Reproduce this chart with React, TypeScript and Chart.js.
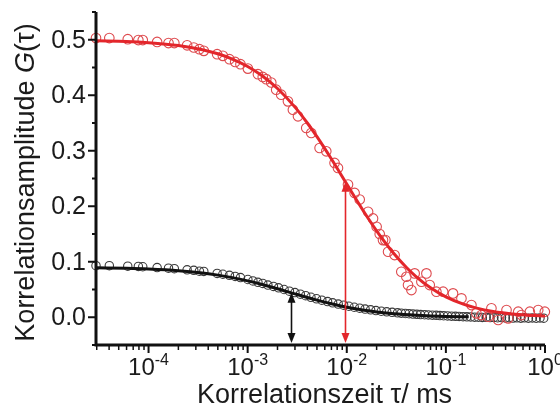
import { useEffect, useRef } from "react";
import { Chart, registerables } from "chart.js";

Chart.register(...registerables);

// Red sample: measured points (tau in ms, amplitude G)
const redTau = [
  2.95e-5, 4.02e-5, 6.17e-5, 7.89e-5, 8.74e-5, 1.22e-4, 1.59e-4, 1.82e-4, 2.45e-4, 2.86e-4,
  3.26e-4, 3.61e-4, 4.92e-4, 5.62e-4, 6.55e-4, 7.48e-4, 8.46e-4, 1.005e-3, 1.27e-3, 1.42e-3,
  1.54e-3, 1.73e-3, 1.94e-3, 2.18e-3, 2.55e-3, 2.86e-3, 3.22e-3, 3.9e-3, 4.38e-3, 5.32e-3,
  6.21e-3, 7.53e-3, 8.15e-3, 1.029e-2, 1.2e-2, 1.35e-2, 1.64e-2, 1.84e-2, 2.0e-2, 2.15e-2,
  2.32e-2, 2.45e-2, 2.61e-2, 3.04e-2, 3.55e-2, 3.99e-2, 4.15e-2, 4.49e-2, 4.84e-2, 5.66e-2,
  6.36e-2, 6.87e-2, 8.02e-2, 9.38e-2, 0.118, 0.1435, 0.181, 0.203, 0.228, 0.267,
  0.288, 0.337, 0.409, 0.425, 0.537, 0.579, 0.703, 0.854, 0.996,
];
const redG = [
  0.503, 0.503, 0.501, 0.4995, 0.4995, 0.496, 0.494, 0.494, 0.49, 0.486,
  0.483, 0.48, 0.474, 0.471, 0.465, 0.46, 0.456, 0.448, 0.438, 0.433,
  0.429, 0.423, 0.41, 0.401, 0.389, 0.374, 0.362, 0.341, 0.332, 0.305,
  0.299, 0.278, 0.269, 0.239, 0.224, 0.212, 0.19, 0.178, 0.163, 0.15,
  0.139, 0.139, 0.118, 0.112, 0.082, 0.073, 0.058, 0.049, 0.079, 0.064,
  0.079, 0.058, 0.046, 0.046, 0.043, 0.034, 0.022, 0.007, 0.004, 0.001,
  0.016, -0.005, 0.013, -0.002, 0.01, 0.004, 0.01, 0.013, 0.01,
];

// Red fit curve
const redFitTau = [
  3e-5, 6e-5, 1e-4, 2e-4, 3.5e-4, 5e-4, 7e-4, 1e-3, 1.4e-3, 2e-3, 3e-3, 4e-3, 5e-3, 7e-3,
  1e-2, 1.5e-2, 2e-2, 3e-2, 4e-2, 5e-2, 7e-2, 0.1, 0.15, 0.2, 0.3, 0.5, 0.7, 1,
];
const redFitG = [
  0.498, 0.4969, 0.4947, 0.4896, 0.4821, 0.4748, 0.4653, 0.4519, 0.4351, 0.4121, 0.3786, 0.35, 0.3254, 0.2851,
  0.24, 0.1893, 0.1558, 0.1143, 0.0896, 0.0733, 0.0531, 0.0368, 0.0236, 0.0169, 0.0103, 0.0054, 0.0034, 0.0021,
];

// Black sample: measured points
const blackTau = [
  2.95e-5, 4.02e-5, 6.17e-5, 7.89e-5, 8.74e-5, 1.22e-4, 1.59e-4, 1.82e-4, 2.45e-4, 2.86e-4,
  3.26e-4, 3.61e-4, 4.92e-4, 5.62e-4, 6.55e-4, 7.48e-4, 8.46e-4, 1.005e-3, 1.13e-3, 1.27e-3,
  1.42e-3, 1.6e-3, 1.82e-3, 2.05e-3, 2.33e-3, 2.64e-3, 3.0e-3, 3.4e-3, 3.85e-3, 4.35e-3,
  4.95e-3, 5.6e-3, 6.4e-3, 7.2e-3, 8.2e-3, 9.3e-3, 1.05e-2, 1.19e-2, 1.35e-2, 1.53e-2,
  1.74e-2, 1.97e-2, 2.23e-2, 2.53e-2, 2.87e-2, 3.25e-2, 3.55e-2, 3.9e-2, 4.25e-2, 4.65e-2,
  5.1e-2, 5.55e-2, 6.1e-2, 6.65e-2, 7.3e-2, 8.0e-2, 8.7e-2, 9.5e-2, 0.104, 0.114,
  0.125, 0.136, 0.149, 0.163, 0.178, 0.195, 0.213, 0.233, 0.255, 0.279,
  0.305, 0.333, 0.364, 0.398, 0.435, 0.476, 0.52, 0.57, 0.62, 0.68,
  0.745, 0.815, 0.89, 0.97,
];
const blackG = [
  0.093, 0.093, 0.092, 0.0915, 0.091, 0.0895, 0.0885, 0.0875, 0.0855, 0.0845,
  0.083, 0.0825, 0.079, 0.0775, 0.0755, 0.0735, 0.0715, 0.068, 0.0655, 0.063,
  0.061, 0.058, 0.0555, 0.053, 0.05, 0.047, 0.0445, 0.0415, 0.0388, 0.036,
  0.0333, 0.0308, 0.0282, 0.026, 0.0238, 0.0217, 0.0198, 0.018, 0.0164, 0.0148,
  0.0134, 0.012, 0.0108, 0.0097, 0.0088, 0.008, 0.0074, 0.0068, 0.0063, 0.0058,
  0.0053, 0.0049, 0.0045, 0.0041, 0.0037, 0.0034, 0.003, 0.0027, 0.0023, 0.002,
  0.0017, 0.0014, 0.0011, 0.0008, 0.0005, 0.0002, 0.0, -0.0003, -0.0001, -0.0006,
  -0.0004, -0.0009, -0.0006, -0.0012, -0.0008, -0.0014, -0.001, -0.0016, -0.0011, -0.0017,
  -0.0012, -0.0018, -0.0013, -0.0016,
];

// Black fit curve
const blackFitTau = [
  3e-5, 6e-5, 1e-4, 2e-4, 3.5e-4, 5e-4, 7e-4, 1e-3, 1.4e-3, 2e-3, 3e-3, 4e-3, 5e-3, 7e-3,
  1e-2, 1.5e-2, 2e-2, 3e-2, 5e-2, 7e-2, 0.1, 0.17,
];
const blackFitG = [
  0.089, 0.0881, 0.0868, 0.0838, 0.0796, 0.0759, 0.0714, 0.0655, 0.059, 0.0514, 0.0421, 0.0356, 0.0308, 0.0242,
  0.0181, 0.0126, 0.0096, 0.0063, 0.0036, 0.0024, 0.0015, 0.0008,
];

// Diffusion-time markers (double arrows from the axis up to the curve)
const arrowTau = [0.0096, 0.00275];
const arrowG = [0.244, 0.044];
const arrowColors = ["#e3262b", "#111111"];

// Axis ticks
const yMajorTicks = [0, 0.1, 0.2, 0.3, 0.4, 0.5];
const yMajorLabels = ["0.0", "0.1", "0.2", "0.3", "0.4", "0.5"];
const yMinorTicks = [-0.05, 0.05, 0.15, 0.25, 0.35, 0.45, 0.55];
const xMajorExponents = [-4, -3, -2, -1, 0];
const xDecades = [1e-5, 1e-4, 1e-3, 1e-2, 1e-1];
const xMinorFactors = [2, 3, 4, 5, 6, 7, 8, 9];

const FONT = "'Liberation Sans', Arial, sans-serif";
const TEXT = "#1b1b1b";

function pts(xs: number[], ys: number[]) {
  return xs.map((x, i) => ({ x, y: ys[i] }));
}

function drawArrowHead(ctx: CanvasRenderingContext2D, x: number, y: number, dir: number) {
  const len = 10;
  const half = 4;
  ctx.beginPath();
  ctx.moveTo(x, y);
  ctx.lineTo(x - half, y - dir * len);
  ctx.lineTo(x + half, y - dir * len);
  ctx.closePath();
  ctx.fill();
}

const decorPlugin = {
  id: "decor",
  afterDatasetsDraw(chart: any) {
    const { ctx, chartArea: ca, scales } = chart;
    const xs = scales.x;
    const ys = scales.y;
    ctx.save();

    // arrows
    arrowTau.forEach((t, i) => {
      const px = Math.round(xs.getPixelForValue(t)) + 0.5;
      const pTop = ys.getPixelForValue(arrowG[i]);
      const pBot = ca.bottom - 2;
      ctx.strokeStyle = arrowColors[i];
      ctx.fillStyle = arrowColors[i];
      ctx.lineWidth = 1.6;
      ctx.beginPath();
      ctx.moveTo(px, pTop + 8);
      ctx.lineTo(px, pBot - 8);
      ctx.stroke();
      drawArrowHead(ctx, px, pTop, -1);
      drawArrowHead(ctx, px, pBot, 1);
    });

    // axis lines
    ctx.strokeStyle = "#111";
    ctx.lineWidth = 3;
    ctx.lineJoin = "miter";
    ctx.beginPath();
    ctx.moveTo(ca.left, ca.top);
    ctx.lineTo(ca.left, ca.bottom);
    ctx.lineTo(ca.right, ca.bottom);
    ctx.stroke();

    // y ticks
    ctx.lineWidth = 2;
    yMajorTicks.forEach((v) => {
      const py = ys.getPixelForValue(v);
      ctx.beginPath();
      ctx.moveTo(ca.left - 8, py);
      ctx.lineTo(ca.left, py);
      ctx.stroke();
    });
    yMinorTicks.forEach((v) => {
      const py = ys.getPixelForValue(v);
      ctx.beginPath();
      ctx.moveTo(ca.left - 4, py);
      ctx.lineTo(ca.left, py);
      ctx.stroke();
    });

    // x ticks
    xMajorExponents.forEach((e) => {
      const px = xs.getPixelForValue(Math.pow(10, e));
      ctx.beginPath();
      ctx.moveTo(px, ca.bottom);
      ctx.lineTo(px, ca.bottom + 8);
      ctx.stroke();
    });
    ctx.lineWidth = 1.5;
    xDecades.forEach((d) => {
      xMinorFactors.forEach((f) => {
        const v = d * f;
        if (v < xs.min || v > xs.max) return;
        const px = xs.getPixelForValue(v);
        ctx.beginPath();
        ctx.moveTo(px, ca.bottom);
        ctx.lineTo(px, ca.bottom + 5);
        ctx.stroke();
      });
    });

    // y tick labels
    ctx.fillStyle = TEXT;
    ctx.font = `25px ${FONT}`;
    ctx.textAlign = "right";
    ctx.textBaseline = "middle";
    yMajorTicks.forEach((v, i) => {
      ctx.fillText(yMajorLabels[i], ca.left - 10, ys.getPixelForValue(v) + 1);
    });

    // x tick labels 10^e
    ctx.textAlign = "left";
    ctx.textBaseline = "alphabetic";
    xMajorExponents.forEach((e) => {
      const px = xs.getPixelForValue(Math.pow(10, e));
      ctx.font = `24px ${FONT}`;
      const wBase = ctx.measureText("10").width;
      const expText = e === 0 ? "0" : `-${Math.abs(e)}`;
      ctx.font = `16px ${FONT}`;
      const wExp = ctx.measureText(expText).width;
      const x0 = px - (wBase + wExp) / 2;
      ctx.font = `24px ${FONT}`;
      ctx.fillText("10", x0, 375);
      ctx.font = `16px ${FONT}`;
      ctx.fillText(expText, x0 + wBase, 365);
    });

    // x title
    ctx.font = `27px ${FONT}`;
    ctx.textAlign = "center";
    ctx.fillText("Korrelationszeit \u03c4/ ms", (ca.left + ca.right) / 2 + 4, 403);

    // y title (rotated), with italic G
    const p1 = "Korrelationsamplitude ";
    const p2 = "G";
    const p3 = "(\u03c4)";
    ctx.font = `27px ${FONT}`;
    const w1 = ctx.measureText(p1).width;
    const w3 = ctx.measureText(p3).width;
    ctx.font = `italic 27px ${FONT}`;
    const w2 = ctx.measureText(p2).width;
    const total = w1 + w2 + w3;
    ctx.translate(34, (ca.top + ca.bottom) / 2 + 4);
    ctx.rotate(-Math.PI / 2);
    ctx.textAlign = "left";
    let cx = -total / 2;
    ctx.font = `27px ${FONT}`;
    ctx.fillText(p1, cx, 0);
    cx += w1;
    ctx.font = `italic 27px ${FONT}`;
    ctx.fillText(p2, cx, 0);
    cx += w2;
    ctx.font = `27px ${FONT}`;
    ctx.fillText(p3, cx, 0);

    ctx.restore();
  },
};

export default function App() {
  const ref = useRef<HTMLCanvasElement>(null);

  useEffect(() => {
    if (!ref.current) return;
    const chart = new Chart(ref.current, {
      type: "scatter",
      data: {
        datasets: [
          {
            label: "Fit rot",
            data: pts(redFitTau, redFitG),
            showLine: true,
            borderColor: "#e3262b",
            borderWidth: 3,
            pointRadius: 0,
            cubicInterpolationMode: "monotone",
            order: 0,
            clip: 4,
          } as any,
          {
            label: "Daten rot",
            data: pts(redTau, redG),
            showLine: false,
            borderColor: "#de4a4e",
            backgroundColor: "rgba(0,0,0,0)",
            borderWidth: 1.1,
            pointRadius: 4.8,
            order: 1,
            clip: 8,
          } as any,
          {
            label: "Fit schwarz",
            data: pts(blackFitTau, blackFitG),
            showLine: true,
            borderColor: "#111111",
            borderWidth: 3,
            pointRadius: 0,
            cubicInterpolationMode: "monotone",
            order: 2,
            clip: 4,
          } as any,
          {
            label: "Daten schwarz",
            data: pts(blackTau, blackG),
            showLine: false,
            borderColor: "#3a3a3a",
            backgroundColor: "rgba(0,0,0,0)",
            borderWidth: 1.1,
            pointRadius: 4.2,
            order: 3,
            clip: 8,
          } as any,
        ],
      },
      options: {
        responsive: false,
        animation: false,
        devicePixelRatio: 1,
        layout: { padding: { left: 96, right: 15, top: 12, bottom: 63 } },
        scales: {
          x: { type: "logarithmic", min: 2.95e-5, max: 1, display: false },
          y: { type: "linear", min: -0.05, max: 0.55, display: false },
        },
        plugins: {
          legend: { display: false },
          tooltip: { enabled: false },
        },
        events: [],
      },
      plugins: [decorPlugin],
    });
    return () => chart.destroy();
  }, []);

  return (
    <div style={{ position: "fixed", left: 0, top: 0, width: 560, height: 408, background: "#fff" }}>
      <canvas ref={ref} width={560} height={408} style={{ display: "block", width: 560, height: 408 }} />
    </div>
  );
}
